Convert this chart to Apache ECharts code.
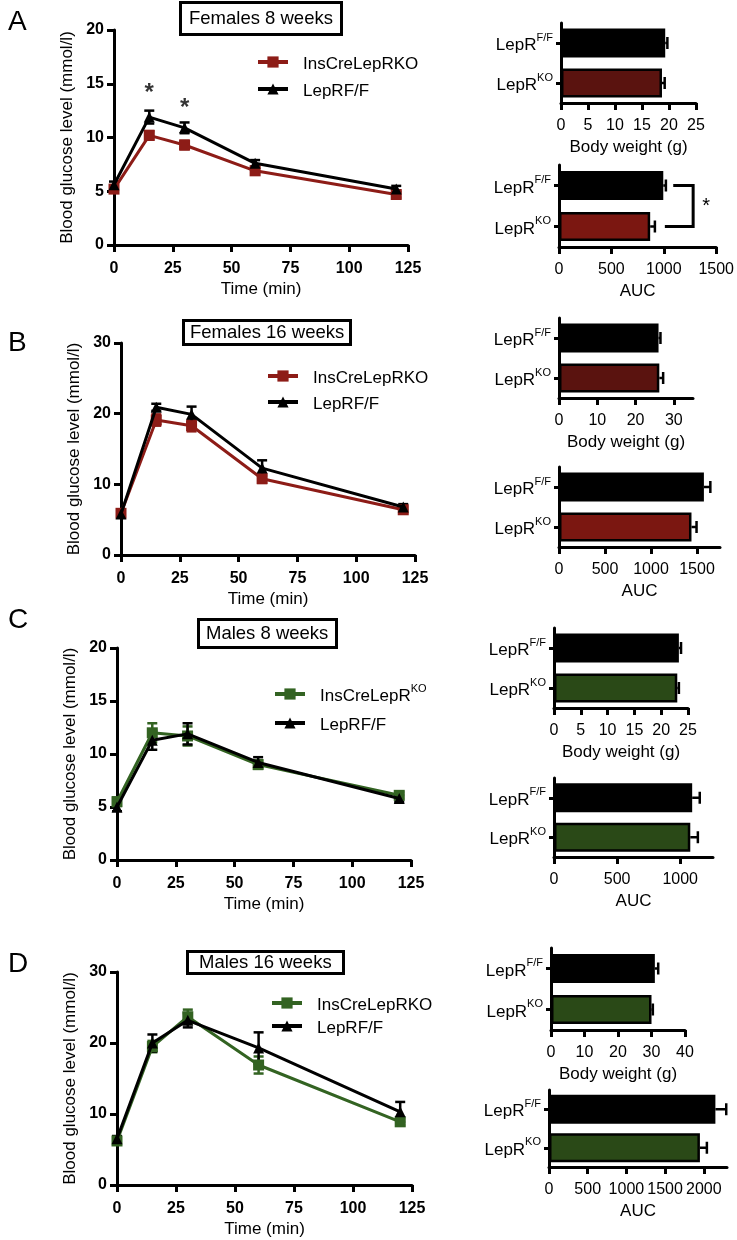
<!DOCTYPE html>
<html>
<head>
<meta charset="utf-8">
<title>Glucose tolerance and body weight</title>
<script src="https://cdn.jsdelivr.net/npm/echarts@6/dist/echarts.min.js"></script>
<style>
  html, body { margin: 0; padding: 0; background: #fff; }
  #chart { width: 737px; height: 1240px; }
</style>
</head>
<body>
<div id="chart"></div>
<script>
// sampling times of the glucose tolerance test (min)
const times = [0, 15, 30, 60, 120]

// blood glucose (mmol/l), mean and SEM per panel
const glucoseKoA = [5.2, 10.2, 9.3, 6.9, 4.7]
const glucoseKoErrA = [0.3, 0.4, 0.4, 0.3, 0.3]
const glucoseFfA = [5.6, 11.9, 10.9, 7.6, 5.2]
const glucoseFfErrA = [0.3, 0.6, 0.5, 0.3, 0.3]

const glucoseKoB = [5.9, 19.1, 18.3, 10.8, 6.4]
const glucoseKoErrB = [0.4, 0.8, 0.8, 0.6, 0.4]
const glucoseFfB = [5.8, 20.9, 19.9, 12.3, 6.8]
const glucoseFfErrB = [0.4, 0.5, 1.1, 1.1, 0.4]

const glucoseKoC = [5.5, 12.0, 11.7, 9.0, 6.1]
const glucoseKoErrC = [0.4, 0.9, 0.9, 0.4, 0.3]
const glucoseFfC = [5.0, 11.3, 11.9, 9.2, 5.8]
const glucoseFfErrC = [0.4, 0.9, 1.0, 0.5, 0.3]

const glucoseKoD = [6.2, 19.5, 23.7, 16.9, 8.9]
const glucoseKoErrD = [0.4, 0.8, 1.0, 1.2, 0.5]
const glucoseFfD = [6.5, 20.0, 23.2, 19.3, 10.3]
const glucoseFfErrD = [0.4, 1.2, 1.0, 2.2, 1.4]

// significance stars in panel A: [time, glucose]
const starsA = [[15, 14.1], [30, 12.7]]

// bar charts: order is LepR F/F, LepR KO
const genotypes = ['F/F', 'KO']
const weightA = [19.3, 18.7]
const weightErrA = [0.4, 0.5]
const aucA = [995, 870]
const aucErrA = [25, 45]
const aucBracketA = [1090, 1280, 1010] // bracket: F/F end, vertical, KO end

const weightB = [26.0, 26.2]
const weightErrB = [0.5, 1.0]
const aucB = [1575, 1440]
const aucErrB = [70, 55]

const weightC = [23.3, 23.0]
const weightErrC = [0.4, 0.3]
const aucC = [1095, 1080]
const aucErrC = [60, 60]

const weightD = [31.0, 30.0]
const weightErrD = [1.0, 0.4]
const aucD = [2150, 1950]
const aucErrD = [140, 90]

// axis ticks
const glucoseTicks20 = [0, 5, 10, 15, 20]
const glucoseTicks30 = [0, 10, 20, 30]
const weightTicks25 = [0, 5, 10, 15, 20, 25]
const weightTicks30 = [0, 10, 20, 30]
const weightTicks40 = [0, 10, 20, 30, 40]
const aucTicks1500 = [0, 500, 1000, 1500]
const aucTicks1000 = [0, 500, 1000]
const aucTicks2000 = [0, 500, 1000, 1500, 2000]

const RED = '#8d1c17'
const GREEN = '#336322'
const FONT = 'Liberation Sans, Arial, sans-serif'

const panels = [
  {
    letter: 'A', title: 'Females 8 weeks', koName: 'InsCreLepRKO', color: RED,
    ko: glucoseKoA, koErr: glucoseKoErrA, ff: glucoseFfA, ffErr: glucoseFfErrA,
    yTicks: glucoseTicks20,
    weight: weightA, weightErr: weightErrA, weightMax: 25, weightTicks: weightTicks25,
    auc: aucA, aucErr: aucErrA, aucMax: 1500, aucTicks: aucTicks1500,
    weightFill: '#5a130f', aucFill: '#7b1711',
    layout: {
      line: { left: 114, top: 30, width: 294, height: 215 },
      weight: { left: 561, top: 23, width: 135, height: 80 },
      auc: { left: 559, top: 165, width: 160, height: 82 },
      box: { left: 180, top: 2, padding: [7, 9] },
      letterTop: 3,
      legend: { left: 251, top: 51, itemGap: 10 }
    }
  },
  {
    letter: 'B', title: 'Females 16 weeks', koName: 'InsCreLepRKO', color: RED,
    ko: glucoseKoB, koErr: glucoseKoErrB, ff: glucoseFfB, ffErr: glucoseFfErrB,
    yTicks: glucoseTicks30,
    weight: weightB, weightErr: weightErrB, weightMax: 35, weightTicks: weightTicks30,
    auc: aucB, aucErr: aucErrB, aucMax: 1750, aucTicks: aucTicks1500,
    weightFill: '#5a130f', aucFill: '#7b1711',
    layout: {
      line: { left: 121, top: 343, width: 294, height: 212 },
      weight: { left: 559, top: 318, width: 134, height: 80 },
      auc: { left: 559, top: 467, width: 161, height: 80 },
      box: { left: 183, top: 320, padding: [3, 7] },
      letterTop: 324,
      legend: { left: 261, top: 365, itemGap: 9 }
    }
  },
  {
    letter: 'C', title: 'Males 8 weeks', koName: '{t|InsCreLepR}{s|KO}', color: GREEN,
    ko: glucoseKoC, koErr: glucoseKoErrC, ff: glucoseFfC, ffErr: glucoseFfErrC,
    yTicks: glucoseTicks20,
    weight: weightC, weightErr: weightErrC, weightMax: 25, weightTicks: weightTicks25,
    auc: aucC, aucErr: aucErrC, aucMax: 1260, aucTicks: aucTicks1000,
    weightFill: '#2a4917', aucFill: '#2a4917',
    layout: {
      line: { left: 117, top: 648, width: 294, height: 212 },
      weight: { left: 554, top: 628, width: 134, height: 80 },
      auc: { left: 554, top: 778, width: 159, height: 79 },
      box: { left: 198, top: 619, padding: [5, 8] },
      letterTop: 601,
      legend: { left: 268, top: 678, itemGap: 12 }
    }
  },
  {
    letter: 'D', title: 'Males 16 weeks', koName: 'InsCreLepRKO', color: GREEN,
    ko: glucoseKoD, koErr: glucoseKoErrD, ff: glucoseFfD, ffErr: glucoseFfErrD,
    yTicks: glucoseTicks30,
    weight: weightD, weightErr: weightErrD, weightMax: 40, weightTicks: weightTicks40,
    auc: aucD, aucErr: aucErrD, aucMax: 2300, aucTicks: aucTicks2000,
    weightFill: '#2a4917', aucFill: '#2a4917',
    layout: {
      line: { left: 117, top: 972, width: 295, height: 213 },
      weight: { left: 551, top: 948, width: 134, height: 82 },
      auc: { left: 549, top: 1090, width: 178, height: 77 },
      box: { left: 187, top: 951, padding: [2, 12] },
      letterTop: 945,
      legend: { left: 265, top: 992, itemGap: 6 }
    }
  }
]

const chart = echarts.init(document.getElementById('chart'))

const axisLine = () => ({ show: true, onZero: false, lineStyle: { color: '#000', width: 3 } })
const axisTick = (extra) => Object.assign({ show: true, length: 7, lineStyle: { color: '#000', width: 3 } }, extra)
const plain = (v) => String(v)
const supRich = {
  t: { fontSize: 17, color: '#000', fontFamily: FONT, lineHeight: 22, verticalAlign: 'bottom' },
  s: { fontSize: 11, color: '#000', fontFamily: FONT, lineHeight: 11, verticalAlign: 'top' }
}

// vertical error bar with caps on both ends
function lineErrorItem(params, api) {
  const x = api.value(0)
  const m = api.value(1)
  const e = api.value(2)
  const hi = api.coord([x, m + e])
  const lo = api.coord([x, m - e])
  const w = 5
  const style = { stroke: api.visual('color'), lineWidth: 2.5 }
  return {
    type: 'group',
    children: [
      { type: 'line', shape: { x1: hi[0], y1: hi[1], x2: lo[0], y2: lo[1] }, style },
      { type: 'line', shape: { x1: hi[0] - w, y1: hi[1], x2: hi[0] + w, y2: hi[1] }, style },
      { type: 'line', shape: { x1: lo[0] - w, y1: lo[1], x2: lo[0] + w, y2: lo[1] }, style }
    ]
  }
}

// horizontal error bar, to the right only
function barErrorItem(params, api) {
  const v = api.value(0)
  const e = api.value(1)
  const cat = api.value(2)
  const a = api.coord([v, cat])
  const b = api.coord([v + e, cat])
  const h = 6
  const style = { stroke: '#000', lineWidth: 2.5 }
  return {
    type: 'group',
    children: [
      { type: 'line', shape: { x1: a[0], y1: a[1], x2: b[0], y2: b[1] }, style },
      { type: 'line', shape: { x1: b[0], y1: b[1] - h, x2: b[0], y2: b[1] + h }, style }
    ]
  }
}

// significance bracket between the two AUC bars
function bracketItem(params, api) {
  const p1 = api.coord([api.value(0), 0])
  const p2 = api.coord([api.value(1), 0])
  const p3 = api.coord([api.value(1), 1])
  const p4 = api.coord([api.value(2), 1])
  return {
    type: 'group',
    children: [
      {
        type: 'polyline',
        shape: { points: [p1, p2, p3, p4] },
        style: { stroke: '#000', lineWidth: 3, fill: null }
      },
      {
        type: 'text',
        style: {
          text: '*', x: p2[0] + 13, y: (p2[1] + p3[1]) / 2,
          fill: '#000', font: '20px ' + FONT, align: 'center', verticalAlign: 'middle'
        }
      }
    ]
  }
}

const option = {
  animation: false,
  backgroundColor: '#fff',
  textStyle: { fontFamily: FONT },
  title: [],
  legend: [],
  grid: [],
  xAxis: [],
  yAxis: [],
  series: []
}

const legendNames = {}

panels.forEach((p, i) => {
  const L = p.layout
  const gLine = i * 3
  const gWeight = i * 3 + 1
  const gAuc = i * 3 + 2

  option.title.push({
    text: p.letter, left: 3, top: L.letterTop,
    textStyle: { fontSize: 28, fontWeight: 'normal', color: '#000', fontFamily: FONT }
  })
  option.title.push({
    text: p.title, left: L.box.left, top: L.box.top, padding: L.box.padding,
    borderColor: '#000', borderWidth: 3,
    textStyle: { fontSize: 18.5, fontWeight: 'normal', color: '#000', fontFamily: FONT }
  })

  // glucose curve
  option.grid.push(Object.assign({ containLabel: false }, L.line))
  option.xAxis.push({
    gridIndex: gLine, type: 'value', min: 0, max: 125, interval: 25,
    axisLine: axisLine(), axisTick: axisTick(), splitLine: { show: false },
    axisLabel: { formatter: plain, hideOverlap: false, color: '#000', fontSize: 16, fontWeight: 'bold', margin: 16, fontFamily: FONT },
    name: 'Time (min)', nameLocation: 'middle', nameGap: 36,
    nameTextStyle: { fontSize: 17, color: '#000', fontFamily: FONT }
  })
  const yMax = p.yTicks[p.yTicks.length - 1]
  option.yAxis.push({
    gridIndex: gLine, type: 'value', min: 0, max: yMax, interval: p.yTicks[1],
    axisLine: axisLine(), axisTick: axisTick(), splitLine: { show: false },
    axisLabel: { formatter: plain, color: '#000', fontSize: 16, fontWeight: 'bold', margin: 10, fontFamily: FONT },
    name: 'Blood glucose level (mmol/l)', nameLocation: 'middle', nameGap: 38,
    nameTextStyle: { fontSize: 17, color: '#000', fontFamily: FONT }
  })

  const koId = p.letter + '-KO'
  const ffId = p.letter + '-FF'
  legendNames[koId] = p.koName
  legendNames[ffId] = 'LepRF/F'

  option.series.push({
    type: 'custom', xAxisIndex: gLine, yAxisIndex: gLine, z: 1,
    itemStyle: { color: p.color }, renderItem: lineErrorItem,
    encode: { x: 0, y: 1 },
    data: times.map((t, k) => [t, p.ko[k], p.koErr[k]])
  })
  option.series.push({
    type: 'custom', xAxisIndex: gLine, yAxisIndex: gLine, z: 1,
    itemStyle: { color: '#000' }, renderItem: lineErrorItem,
    encode: { x: 0, y: 1 },
    data: times.map((t, k) => [t, p.ff[k], p.ffErr[k]])
  })
  option.series.push({
    name: koId, type: 'line', xAxisIndex: gLine, yAxisIndex: gLine, z: 2,
    color: p.color, symbol: 'rect', symbolSize: 11, showAllSymbol: true,
    lineStyle: { width: 3, color: p.color }, itemStyle: { color: p.color },
    data: times.map((t, k) => [t, p.ko[k]])
  })
  option.series.push({
    name: ffId, type: 'line', xAxisIndex: gLine, yAxisIndex: gLine, z: 3,
    color: '#000', symbol: 'triangle', symbolSize: 11, showAllSymbol: true,
    lineStyle: { width: 3, color: '#000' }, itemStyle: { color: '#000' },
    data: times.map((t, k) => [t, p.ff[k]])
  })

  option.legend.push({
    data: [koId, ffId], orient: 'vertical',
    left: L.legend.left, top: L.legend.top, itemGap: L.legend.itemGap,
    itemWidth: 30, itemHeight: 14, selectedMode: false,
    lineStyle: { width: 4 },
    formatter: (name) => legendNames[name].startsWith('{') ? legendNames[name] : '{t|' + legendNames[name] + '}',
    textStyle: { fontSize: 16, color: '#000', fontFamily: FONT, padding: [0, 0, 0, 10], rich: supRich }
  })

  // body weight and AUC bars
  const barBlocks = [
    { g: gWeight, box: L.weight, max: p.weightMax, ticks: p.weightTicks, vals: p.weight, errs: p.weightErr, fill: p.weightFill, name: 'Body weight (g)' },
    { g: gAuc, box: L.auc, max: p.aucMax, ticks: p.aucTicks, vals: p.auc, errs: p.aucErr, fill: p.aucFill, name: 'AUC' }
  ]
  barBlocks.forEach((b) => {
    option.grid.push(Object.assign({ containLabel: false }, b.box))
    option.xAxis.push({
      gridIndex: b.g, type: 'value', min: 0, max: b.max,
      axisLine: axisLine(), splitLine: { show: false },
      axisTick: axisTick({ customValues: b.ticks }),
      axisLabel: { customValues: b.ticks, formatter: plain, hideOverlap: false, color: '#000', fontSize: 16, margin: 15, fontFamily: FONT },
      name: b.name, nameLocation: 'middle', nameGap: 36,
      nameTextStyle: { fontSize: 17, color: '#000', fontFamily: FONT }
    })
    option.yAxis.push({
      gridIndex: b.g, type: 'category', data: genotypes, inverse: true,
      axisLine: axisLine(), splitLine: { show: false },
      axisTick: axisTick({ alignWithLabel: true, length: 5 }),
      axisLabel: {
        margin: 8, formatter: (v) => '{t|LepR}{s|' + v + '}', rich: supRich
      }
    })
    option.series.push({
      type: 'bar', xAxisIndex: b.g, yAxisIndex: b.g, barWidth: 29, z: 2,
      data: b.vals.map((v, k) => ({
        value: v,
        itemStyle: k === 0
          ? { color: '#000' }
          : { color: b.fill, borderColor: '#000', borderWidth: 2.5 }
      }))
    })
    option.series.push({
      type: 'custom', xAxisIndex: b.g, yAxisIndex: b.g, z: 1,
      renderItem: barErrorItem, encode: { x: 0, y: 2 },
      data: b.vals.map((v, k) => [v, b.errs[k], k])
    })
  })
})

// stars above the 15 and 30 min points in A
option.series.push({
  type: 'scatter', xAxisIndex: 0, yAxisIndex: 0, symbolSize: 2,
  itemStyle: { color: 'rgba(0,0,0,0)' },
  label: { show: true, position: 'inside', formatter: '*', fontSize: 24, fontWeight: 'bold', color: '#000', fontFamily: FONT },
  data: starsA
})

// bracket between AUC bars in A
option.series.push({
  type: 'custom', xAxisIndex: 2, yAxisIndex: 2, z: 3, clip: false,
  renderItem: bracketItem, encode: { x: 0 },
  data: [aucBracketA]
})

chart.setOption(option)
</script>
</body>
</html>
